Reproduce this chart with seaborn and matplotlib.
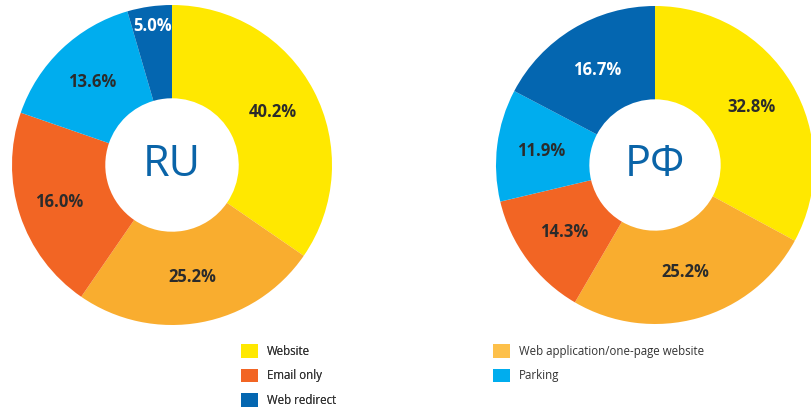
import matplotlib
matplotlib.use("Agg")
import numpy as np
import matplotlib.pyplot as plt
import seaborn as sns
from matplotlib.patches import Patch

# Data: printed labels and wedge sizes as drawn in the picture
categories = ["Website", "Web application/one-page website", "Email only", "Parking", "Web redirect"]
ru_labels = [40.2, 25.2, 16.0, 13.6, 5.0]
ru_wedges = [34.6, 25.0, 20.7, 15.2, 4.5]
rf_labels = [32.8, 25.2, 14.3, 11.9, 16.7]
rf_wedges = [32.9, 25.5, 12.9, 11.4, 17.3]
colors = ["#FFE800", "#F9AD2F", "#F26524", "#00ADEE", "#0466B0"]
legend_colors = ["#FFE800", "#FDC04A", "#F26524", "#00ADEE", "#0466B0"]
txt_colors = ["#2B2B2B", "#2B2B2B", "#2B2B2B", "#2B2B2B", "#FFFFFF"]

sns.set_theme(style="white")
plt.rcParams["font.family"] = ["Open Sans", "DejaVu Sans"]

W, H = 812, 409
fig = plt.figure(figsize=(W / 100, H / 100), dpi=100)


def donut(cx, cy, r, wedges, labels, title, hole, lab_r):
    ax = fig.add_axes([(cx - r) / W, (H - cy - r) / H, 2 * r / W, 2 * r / H])
    ax.pie(wedges, colors=colors, startangle=90, counterclock=False,
           radius=1, wedgeprops=dict(width=1 - hole, linewidth=0))
    total = sum(wedges)
    start = 90
    for w, lab, c, lr in zip(wedges, labels, txt_colors, lab_r):
        mid = np.deg2rad(start - w / total * 180)
        ax.text(lr * np.cos(mid), lr * np.sin(mid), f"{lab:.1f}%", ha="center", va="center",
                fontsize=12, fontweight="bold", color=c)
        start -= w / total * 360
    ax.text(0, 0, title, ha="center", va="center", fontsize=31, color="#0A64A8")
    ax.set_xlim(-1, 1)
    ax.set_ylim(-1, 1)
    ax.set_aspect("equal")
    ax.axis("off")


donut(172, 165, 160, ru_wedges, ru_labels, "RU", 0.417, [0.71, 0.71, 0.74, 0.72, 0.88])
donut(655, 165, 159, rf_wedges, rf_labels, "РФ", 0.413, [0.71, 0.70, 0.71, 0.72, 0.70])

handles = {c: Patch(facecolor=col, edgecolor="none") for c, col in zip(categories, legend_colors)}
col1 = ["Website", "Email only", "Web redirect"]
col2 = ["Web application/one-page website", "Parking"]
leg_kw = dict(loc="upper left", frameon=False, fontsize=8.3, handlelength=1.4, handleheight=1.4,
              handletextpad=0.8, labelspacing=0.95, labelcolor="#333333")
leg1 = fig.legend([handles[c] for c in col1], col1, bbox_to_anchor=(231 / W, 1 - 334 / H), **leg_kw)
leg2 = fig.legend([handles[c] for c in col2], col2, bbox_to_anchor=(483 / W, 1 - 334 / H), **leg_kw)
fig.add_artist(leg1)

fig.savefig("out.png", dpi=100)
